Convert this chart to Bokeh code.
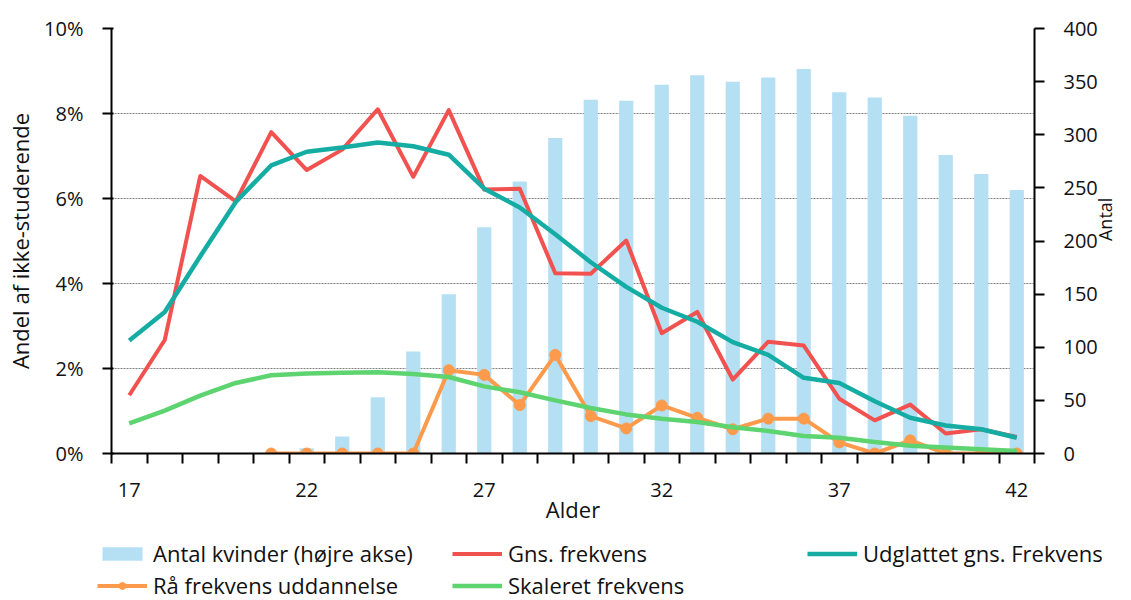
import math
from bokeh.plotting import figure
from bokeh.models import (Range1d, LinearAxis, FixedTicker, PrintfTickFormatter,
                          Legend, LegendItem)
from bokeh.embed import file_html
from bokeh.resources import INLINE

# ---- data ----
ages = list(range(17, 43))
antal_kvinder = [0, 0, 0, 0, 0, 5, 16, 53, 96, 150, 213, 256, 297, 333, 332,
                 347, 356, 350, 354, 362, 340, 335, 318, 281, 263, 248]
gns_frekvens = [1.37, 2.67, 6.53, 5.93, 7.56, 6.67, 7.15, 8.10, 6.51, 8.08,
                6.21, 6.23, 4.24, 4.23, 5.01, 2.83, 3.33, 1.74, 2.63, 2.54,
                1.29, 0.78, 1.15, 0.47, 0.57, 0.39]
udglattet = [2.66, 3.33, 4.64, 5.92, 6.78, 7.10, 7.20, 7.32, 7.23, 7.03,
             6.23, 5.79, 5.16, 4.50, 3.92, 3.43, 3.10, 2.62, 2.32, 1.78,
             1.66, 1.23, 0.84, 0.66, 0.57, 0.37]
skaleret = [0.71, 1.01, 1.36, 1.66, 1.84, 1.88, 1.90, 1.91, 1.87, 1.80,
            1.58, 1.44, 1.25, 1.07, 0.92, 0.82, 0.74, 0.62, 0.53, 0.41,
            0.37, 0.27, 0.18, 0.14, 0.10, 0.06]
raa_ages = list(range(21, 43))
raa_frekvens = [0, 0, 0, 0, 0, 1.96, 1.85, 1.14, 2.32, 0.88, 0.59, 1.13,
                0.84, 0.57, 0.82, 0.82, 0.26, 0, 0.31, 0, 0, 0]
x_labels = [17, 22, 27, 32, 37, 42]
left_ticks = [0, 2, 4, 6, 8, 10]
right_ticks = [0, 50, 100, 150, 200, 250, 300, 350, 400]

FONT = "Open Sans"
TXT = "#111111"
BAR_C, RED_C, TEAL_C, ORANGE_C, GREEN_C = "#B5E0F4", "#F2524F", "#15ADA3", "#FD9A4C", "#5DD470"


def draw_series(fig):
    b = fig.vbar(x=ages, top=antal_kvinder, width=0.4, y_range_name="antal",
                 fill_color=BAR_C, line_color=None)
    r = fig.line(ages, gns_frekvens, line_color=RED_C, line_width=4,
                 line_join="round")
    t = fig.line(ages, udglattet, line_color=TEAL_C, line_width=4.5,
                 line_join="round")
    ol = fig.line(raa_ages, raa_frekvens, line_color=ORANGE_C, line_width=4,
                  line_join="round")
    om = fig.scatter(raa_ages, raa_frekvens, marker="circle", size=11,
                     fill_color=ORANGE_C, line_color=ORANGE_C)
    g = fig.line(ages, skaleret, line_color=GREEN_C, line_width=4.5,
                 line_join="round")
    return b, r, t, ol, om, g


# ---------------- main chart ----------------
p = figure(width=1131, height=526, x_range=Range1d(16.5, 42.5),
           y_range=Range1d(0, 10), output_backend="svg", toolbar_location=None,
           min_border_left=111, min_border_right=97, min_border_top=28,
           min_border_bottom=70)
p.outline_line_color = None
p.background_fill_color = "white"
p.border_fill_color = "white"
p.extra_y_ranges = {"antal": Range1d(0, 400)}

p.xgrid.visible = False
p.ygrid.ticker = FixedTicker(ticks=[2, 4, 6, 8, 10])
p.ygrid.grid_line_color = "#808080"
p.ygrid.grid_line_dash = "2 1"
p.ygrid.grid_line_width = 1

draw_series(p)

# x axis
xa = p.xaxis[0]
xa.ticker = FixedTicker(ticks=x_labels, minor_ticks=[16.5 + i for i in range(27)])
xa.axis_line_width = 2
xa.axis_line_color = "black"
xa.major_tick_out = 0
xa.major_tick_in = 0
xa.minor_tick_out = 10
xa.minor_tick_in = 0
xa.minor_tick_line_width = 2
xa.minor_tick_line_color = "black"
xa.major_label_text_font = FONT
xa.major_label_text_font_size = "20px"
xa.major_label_text_color = TXT
xa.major_label_standoff = 19
xa.axis_label = "Alder"
xa.axis_label_text_font = FONT
xa.axis_label_text_font_size = "22px"
xa.axis_label_text_font_style = "normal"
xa.axis_label_text_color = TXT
xa.axis_label_standoff = -6

# left axis
ya = p.yaxis[0]
ya.ticker = FixedTicker(ticks=left_ticks)
ya.formatter = PrintfTickFormatter(format="%d%%")
ya.axis_line_width = 2
ya.axis_line_color = "black"
ya.major_tick_out = 9
ya.major_tick_in = 2
ya.major_tick_line_width = 2
ya.minor_tick_out = 0
ya.minor_tick_in = 0
ya.major_label_text_font = FONT
ya.major_label_text_font_size = "20px"
ya.major_label_text_color = TXT
ya.major_label_standoff = 19
ya.axis_label = "Andel af ikke-studerende"
ya.axis_label_text_font = FONT
ya.axis_label_text_font_size = "22px"
ya.axis_label_text_font_style = "normal"
ya.axis_label_text_color = TXT
ya.axis_label_standoff = 6

# right axis
ra = LinearAxis(y_range_name="antal", ticker=FixedTicker(ticks=right_ticks))
ra.axis_line_width = 2
ra.axis_line_color = "black"
ra.major_tick_out = 10
ra.major_tick_in = 0
ra.major_tick_line_width = 2
ra.minor_tick_out = 0
ra.minor_tick_in = 0
ra.major_label_text_font = FONT
ra.major_label_text_font_size = "20px"
ra.major_label_text_color = TXT
ra.major_label_standoff = 19
ra.axis_label = "Antal"
ra.axis_label_text_font = FONT
ra.axis_label_text_font_size = "18px"
ra.axis_label_text_font_style = "normal"
ra.axis_label_text_color = TXT
ra.axis_label_standoff = 4
ra.axis_label_orientation = math.pi / 2
p.add_layout(ra, "right")

# ---------------- legend strip (separate root, no frame alignment) ----------------
lp = figure(width=1131, height=74, x_range=Range1d(0, 1), y_range=Range1d(0, 1),
            output_backend="svg", toolbar_location=None,
            x_axis_location=None, y_axis_location=None,
            min_border_left=0, min_border_right=0, min_border_top=0,
            min_border_bottom=0)
lp.extra_y_ranges = {"antal": Range1d(0, 1)}
lp.outline_line_color = None
lp.background_fill_color = "white"
lp.border_fill_color = "white"
lp.grid.visible = False
b, r, t, ol, om, g = draw_series(lp)  # data lie outside this strip's ranges


def make_legend(items, loc):
    lg = Legend(items=items, orientation="horizontal", location=loc)
    lg.glyph_width = 50
    lg.glyph_height = 17
    lg.label_height = 20
    lg.label_width = 289
    lg.label_standoff = 6
    lg.spacing = 10
    lg.padding = 0
    lg.margin = 0
    lg.border_line_color = None
    lg.background_fill_alpha = 0
    lg.label_text_font = FONT
    lg.label_text_font_size = "22px"
    lg.label_text_color = TXT
    return lg


legend1 = make_legend([
    LegendItem(label="Antal kvinder (højre akse)", renderers=[b]),
    LegendItem(label="Gns. frekvens", renderers=[r]),
    LegendItem(label="Udglattet gns. Frekvens", renderers=[t]),
], (97, 32))
legend2 = make_legend([
    LegendItem(label="Rå frekvens uddannelse", renderers=[ol, om]),
    LegendItem(label="Skaleret frekvens", renderers=[g]),
], (97, 0))
lp.add_layout(legend1)
lp.add_layout(legend2)

open("out.html", "w").write(file_html([p, lp], INLINE))
